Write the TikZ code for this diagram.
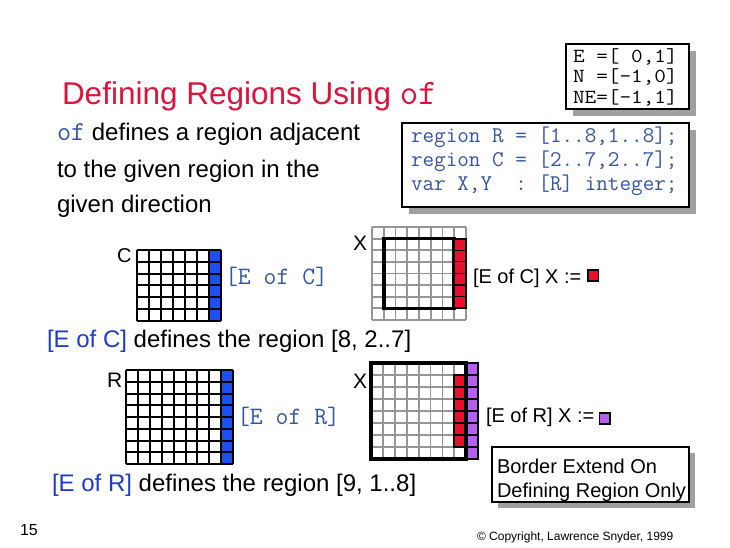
\documentclass[tikz,border=0pt]{standalone}
\usepackage{fontspec}
\setmainfont{Liberation Sans}
\newfontfamily\widemono{Latin Modern Mono}[FakeStretch=1.13]
\definecolor{titlered}{RGB}{220,20,60}
\definecolor{codeblue}{RGB}{55,85,165}
\definecolor{textblue}{RGB}{30,60,200}
\definecolor{cellblue}{RGB}{30,80,240}
\definecolor{cellred}{RGB}{232,16,42}
\definecolor{cellpurple}{RGB}{180,95,240}
\definecolor{gridgray}{RGB}{150,150,150}
\definecolor{shadowgray}{RGB}{160,160,160}
\newcommand\mygrid[7]{%
  \foreach \k in {0,...,#3} \draw[#7] ({#1+\k*#5},#2) -- ({#1+\k*#5},{#2+#4*#6});
  \foreach \k in {0,...,#4} \draw[#7] (#1,{#2+\k*#6}) -- ({#1+#3*#5},{#2+\k*#6});
}
\tikzset{
  txt/.style={anchor=base west, inner sep=0pt, outer sep=0pt},
  body/.style={txt, font=\fontsize{24}{28}\selectfont},
  lbl/.style={txt, font=\fontsize{20}{24}\selectfont},
  code/.style={txt, font=\fontsize{22.5}{26}\selectfont\ttfamily},
  dircode/.style={txt, font=\fontsize{20}{22}\selectfont\widemono},
  boxframe/.style={draw=black, line width=2.5pt, fill=white},
  shadowbox/.style={fill=shadowgray, draw=none},
  blackgrid/.style={black, line width=2pt},
  graygrid/.style={gridgray, line width=1.8pt},
  thickframe/.style={draw=black, line width=3.6pt},
  cellframe/.style={draw=black, line width=1.3pt},
}
\begin{document}
\begin{tikzpicture}[x=1pt, y=-1pt]
\useasboundingbox (0,0) rectangle (730,547);
\fill[white] (0,0) rectangle (730,547);

% title
\node[txt, font=\fontsize{31.5}{36}\selectfont, text=titlered] (title) at (62,104)
  {Defining Regions Using {\fontsize{36}{40}\selectfont\ttfamily of}};

% box 1
\fill[shadowbox] (573,51) rectangle (696,116);
\draw[boxframe] (566,44) rectangle (689,109);
\node[dircode] (e1) at (573,62) {E\ =[\ 0,1]};
\node[dircode] (e2) at (573,82.5) {N\ =[-1,0]};
\node[dircode] (e3) at (573,103) {NE=[-1,1]};

% box 2
\fill[shadowbox] (409,130) rectangle (696,214);
\draw[boxframe] (402,123) rectangle (689,207);
\node[code, text=codeblue] (c1) at (411,142) {region\ R\ =\ [1..8,1..8];};
\node[code, text=codeblue] (c2) at (411,166) {region\ C\ =\ [2..7,2..7];};
\node[code, text=codeblue] (c3) at (411,190) {var\ X,Y\ \ :\ [R]\ integer;};

% body
\node[body] (b1) at (57,140) {\textcolor{codeblue}{\fontsize{27.4}{28}\selectfont\ttfamily of} defines a region adjacent};
\node[body] (b2) at (57,177) {to the given region in the};
\node[body] (b3) at (57,212) {given direction};

% ---- grid C ----
\fill[cellblue] (209,250) rectangle (221,321);
\mygrid{137}{250}{7}{6}{12}{11.83}{blackgrid}
\node[lbl] (lc) at (117,262) {C};
\node[txt, font=\fontsize{25}{28}\selectfont\ttfamily, text=codeblue] (eofc) at (225,284) {[E\ of\ C]};

% ---- grid X top ----
\mygrid{372}{227}{8}{8}{11.75}{11.6}{graygrid}
\draw[thickframe] (383.75,238.6) rectangle (454.25,308.4);
\foreach \j in {1,...,6}
  \draw[cellframe, fill=cellred] (454.25,{227+\j*11.6}) rectangle (466,{227+(\j+1)*11.6});
\draw[black, line width=2pt] (454.25,238.6) rectangle (466,308.4);
\node[lbl, font=\fontsize{21}{24}\selectfont] (lx1) at (353,250) {X};
\node[lbl] (as1) at (473,283) {[E of C] X :=};
\draw[cellframe, fill=cellred] (588,270) rectangle (598.5,281);

\node[body] (d1) at (47,347) {\textcolor{textblue}{[E of C]} defines the region [8, 2..7]};

% ---- grid R ----
\fill[cellblue] (221.2,370) rectangle (233.1,464);
\mygrid{126}{370}{9}{8}{11.9}{11.75}{blackgrid}
\node[lbl, font=\fontsize{21}{24}\selectfont] (lr) at (107,387) {R};
\node[txt, font=\fontsize{25}{28}\selectfont\ttfamily, text=codeblue] (eofr) at (237,424) {[E\ of\ R]};

% ---- grid X bottom ----
\mygrid{371}{363}{8}{8}{11.9}{12}{graygrid}
\foreach \j in {1,...,6}
  \draw[cellframe, fill=cellred] (454.3,{363+\j*12}) rectangle (466.2,{363+(\j+1)*12});
\draw[black, line width=2pt] (454.3,375) rectangle (466.2,447);
\foreach \j in {0,...,7}
  \draw[cellframe, fill=cellpurple] (466.2,{363+\j*12}) rectangle (478.1,{363+(\j+1)*12});
\draw[black, line width=2pt] (466.2,363) rectangle (478.1,459);
\draw[thickframe] (371,363) rectangle (466.2,459);
\node[lbl, font=\fontsize{21}{24}\selectfont] (lx2) at (353,388) {X};
\node[lbl] (as2) at (486,422) {[E of R] X :=};
\draw[cellframe, fill=cellpurple] (599.5,413) rectangle (610,424);

\node[body] (d2) at (52,491) {\textcolor{textblue}{[E of R]} defines the region [9, 1..8]};

% box 3
\fill[shadowbox] (498,453) rectangle (695,508);
\draw[black, line width=2pt, fill=white] (492,447) rectangle (689,502);
\node[lbl] (n1) at (497,473) {Border Extend On};
\node[lbl] (n2) at (497,497) {Defining Region Only};

% footer
\node[txt, font=\fontsize{16}{18}\selectfont] (pg) at (20,535) {15};
\node[txt, font=\fontsize{12}{14}\selectfont] (cp) at (477,540) {\textcopyright{} Copyright, Lawrence Snyder, 1999};
\end{tikzpicture}
\end{document}
